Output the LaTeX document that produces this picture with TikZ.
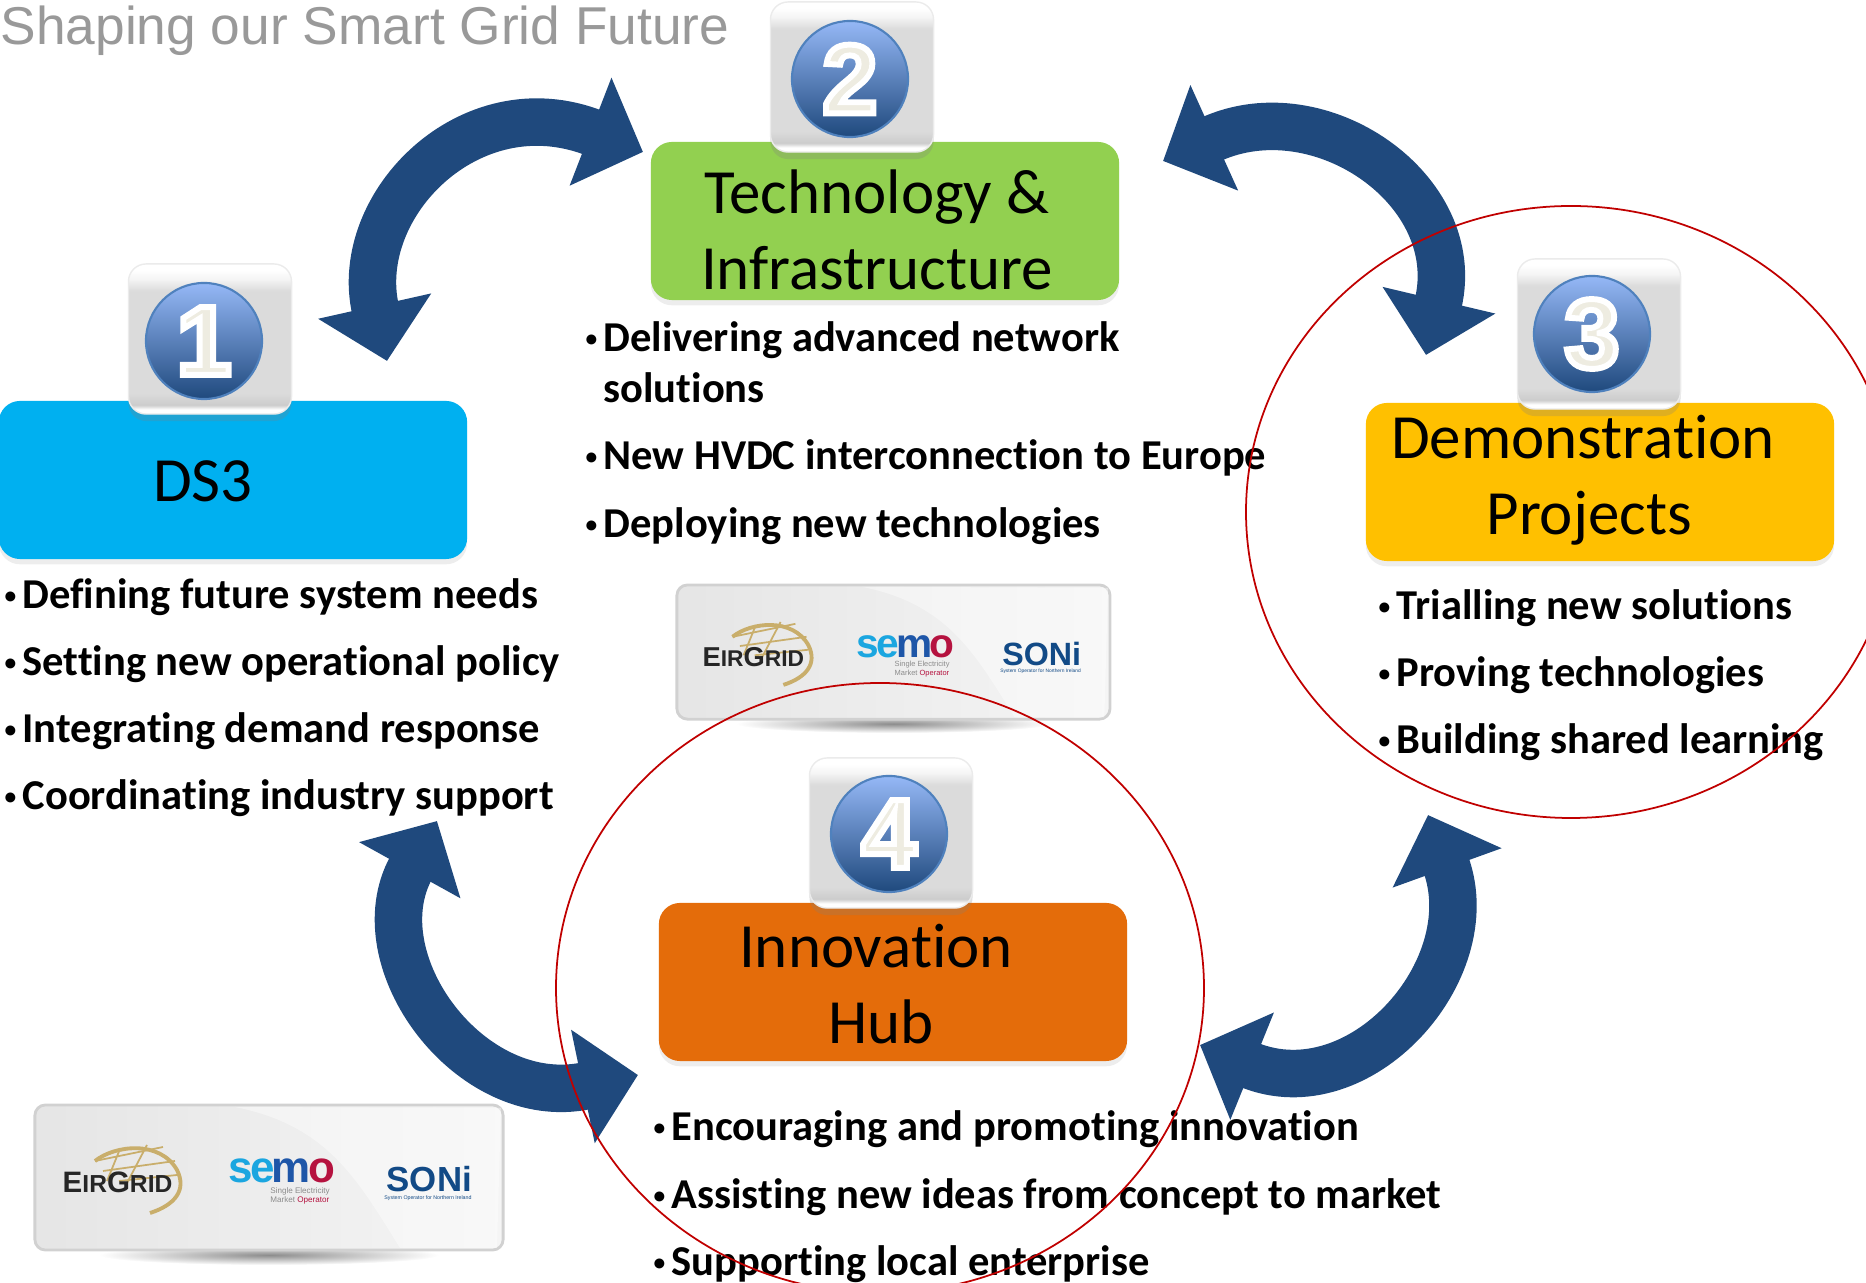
\documentclass[tikz,border=0pt]{standalone}
\usepackage{fontspec}
\usepackage{graphicx}
\setmainfont[Ligatures=NoCommon]{Carlito}
\newfontfamily\logofont{Liberation Sans}
\newfontfamily\numfont[BoldFeatures={FakeBold=6}]{Liberation Sans}
\usetikzlibrary{arrows.meta,shapes.geometric,shadows}

\definecolor{ds3blue}{HTML}{00B0F0}
\definecolor{techgreen}{HTML}{92D050}
\definecolor{demoyellow}{HTML}{FFC000}
\definecolor{hubbrown}{HTML}{E46C0A}
\definecolor{flowblue}{HTML}{1F497D}
\definecolor{balltop}{HTML}{95B8F6}
\definecolor{ballrim}{HTML}{4F81BD}
\definecolor{ringred}{HTML}{C00000}
\definecolor{logogold}{HTML}{C9AE6B}
\definecolor{semocyan}{HTML}{1BA6E0}
\definecolor{semoblue}{HTML}{1E56A8}
\definecolor{semored}{HTML}{B5123F}
\definecolor{soninavy}{HTML}{124A86}

\pgfdeclareverticalshading{iconshade}{100bp}{color(0bp)=(white); color(25bp)=(white); color(26.5bp)=(white); color(28bp)=(black!20); color(32bp)=(black!14); color(66bp)=(black!14); color(70bp)=(black!4); color(73bp)=(white); color(100bp)=(white)}

% small bullet in front of each line
\newcommand{\itemdot}{\makebox[5.1pt][l]{\raisebox{1.5pt}{\scalebox{.55}{\textbullet}}}}
\newcommand{\ballnum}[1]{\special{pdf:bc [0.933 0.925 0.882] [1 1 1]}#1\special{pdf:ec}}

\tikzset{
  titlebox/.style={rounded corners=6pt,minimum width=4.68cm,minimum height=1.58cm,drop shadow={opacity=.14,shadow xshift=0pt,shadow yshift=-1.5pt}},
  titletext/.style={font=\fontsize{17.9}{21.7}\selectfont,align=center,inner sep=0},
  itemtext/.style={font=\fontsize{12.1}{14.5}\selectfont\bfseries,anchor=base west,inner sep=0,align=left},
  iconbox/.style={rounded corners=5pt,minimum width=1.63cm,minimum height=1.5cm,draw=black!8,shading=iconshade,drop shadow={opacity=.25,shadow xshift=0pt,shadow yshift=-2pt}},
  iconball/.style={circle,minimum size=1.16cm,draw=ballrim,line width=.6pt,top color=balltop,bottom color=flowblue,inner sep=0,font=\fontsize{28}{28}\selectfont\numfont\bfseries},
  flow/.style={flowblue,line width=13.5pt,{Triangle[length=16pt,width=32pt]}-{Triangle[length=16pt,width=32pt]}},
  ring/.style={ringred,line width=.5pt},
  logos/.pic={
    \shade[inner color=black!45,outer color=white] (234,150) ellipse (170 and 10);
    \node (panel) at (234,72.5) [transform shape,rounded corners=3pt,minimum width=4.68cm,minimum height=1.45cm,draw=black!18,line width=.8pt,left color=black!10,right color=black!4]{};
    \fill[white,opacity=.4] (200,2) .. controls (290,20) and (320,70) .. (365,143) -- (462,143) -- (466,3) -- cycle;
    \draw[logogold,line width=1.1pt] (60,56) .. controls (80,40) and (125,35) .. (142,65) .. controls (152,85) and (140,100) .. (115,108);
    \draw[logogold,line width=.5pt] (60,56) -- (128,42) (68,66) -- (140,56) (84,76) -- (142,70) (85,44) -- (72,76) (112,40) -- (92,78);
    \node (eirgrid) at (27,88) [transform shape,anchor=base west,inner sep=0,font=\fontsize{8.4}{9}\selectfont\logofont\bfseries,black!85]{E{\fontsize{7}{8}\selectfont IR}G{\fontsize{7}{8}\selectfont RID}};
    \node (semo) at (193,78) [transform shape,anchor=base west,inner sep=0,font=\fontsize{12.5}{13}\selectfont\logofont\bfseries]{\textcolor{semocyan}{s\kern-.8pt e}\kern-.8pt\textcolor{semoblue}{m}\kern-.8pt\textcolor{semored}{o}};
    \node (semosub) at (265,91) [transform shape,inner sep=0,align=left,font=\fontsize{2.3}{2.7}\selectfont\logofont,black!45]{Single Electricity\\Market \textcolor{semored}{Operator}};
    \node (soni) at (351,87) [transform shape,anchor=base west,inner sep=0,font=\fontsize{9.9}{11}\selectfont\logofont\bfseries,soninavy]{SONi};
    \node (sonisub) at (393,93) [transform shape,inner sep=0,font=\fontsize{1.5}{2}\selectfont\logofont,soninavy]{System Operator for Northern Ireland};
  }
}

\begin{document}
\begin{tikzpicture}[x=.01cm,y=-.01cm]
  \useasboundingbox (0,0) rectangle (1866,1283);
  \clip (0,0) rectangle (1866,1283);

  % arrow ends
  \coordinate (dsend) at (387,361);
  \coordinate (techleft) at (643,152);
  \coordinate (techright) at (1163,161);
  \coordinate (demoend) at (1426,355);
  \coordinate (demoback) at (1428,815);
  \coordinate (hubright) at (1200,1045);
  \coordinate (hubleft) at (638,1075);
  \coordinate (dsback) at (437,821);

  \draw[flow] (dsend) .. controls (352,205) and (470,85) .. (techleft);
  \draw[flow] (techright) .. controls (1320,90) and (1465,190) .. (demoend);
  \draw[flow] (demoback) .. controls (1484,970) and (1360,1110) .. (hubright);
  \draw[flow] (hubleft) .. controls (470,1110) and (360,960) .. (dsback);

  \node (title) at (0,45) [anchor=base west,inner sep=0,text=black!40,font=\fontsize{15.15}{16}\selectfont\logofont]{Shaping our Smart Grid Future};

  \node (ds3box) at (233,480) [titlebox,fill=ds3blue]{};
  \node (techbox) at (885,221) [titlebox,fill=techgreen]{};
  \node (demobox) at (1600,482) [titlebox,fill=demoyellow]{};
  \node (hubbox) at (893,982) [titlebox,fill=hubbrown]{};

  \node (ds3title) at (203,481) [titletext]{DS3};
  \node (techtitle) at (877,230) [titletext]{Technology \&\\Infrastructure};
  \node (demotitle) at (1583,480) [titletext]{Demonstration\\\hspace{3.5pt}Projects};
  \node (hubtitle) at (876,984) [titletext]{Innovation\\\hspace{3pt}Hub};

  \node (icon1) at (210,339) [iconbox]{};
  \node (icon2) at (852,77) [iconbox]{};
  \node (icon3) at (1599,334) [iconbox]{};
  \node (icon4) at (891,833) [iconbox]{};

  \node (ball1) at (204,341) [iconball]{\ballnum{1}};
  \node (ball2) at (850,79) [iconball]{\ballnum{2}};
  \node (ball3) at (1592,334) [iconball]{\ballnum{3}};
  \node (ball4) at (889,834) [iconball]{\ballnum{4}};

  \node (ds3a) at (4,609) [itemtext]{\itemdot Defining future system needs};
  \node (ds3b) at (4,676) [itemtext]{\itemdot Setting new operational policy};
  \node (ds3c) at (4,743) [itemtext]{\itemdot Integrating demand response};
  \node (ds3d) at (4,810) [itemtext]{\itemdot Coordinating industry support};

  \node (techa) at (585,403) [itemtext]{\itemdot Delivering advanced network\\\hspace*{5.1pt}solutions};
  \node (techb) at (585,470) [itemtext]{\itemdot New HVDC interconnection to Europe};
  \node (techc) at (585,538) [itemtext]{\itemdot Deploying new technologies};

  \node (demoa) at (1378,620) [itemtext]{\itemdot Trialling new solutions};
  \node (demob) at (1378,687) [itemtext]{\itemdot Proving technologies};
  \node (democ) at (1378,754) [itemtext]{\itemdot Building shared learning};

  \node (huba) at (653,1141) [itemtext]{\itemdot Encouraging and promoting innovation};
  \node (hubb) at (653,1209) [itemtext]{\itemdot Assisting new ideas from concept to market};
  \node (hubc) at (653,1276) [itemtext]{\itemdot Supporting local enterprise};

  \pic (panela) at (677,585) [scale=.925] {logos};
  \pic (panelb) at (35,1105) {logos};

  \draw[ring] (1571,512) ellipse (325 and 306);
  \draw[ring] (880,988) ellipse (324 and 305);
\end{tikzpicture}
\end{document}
